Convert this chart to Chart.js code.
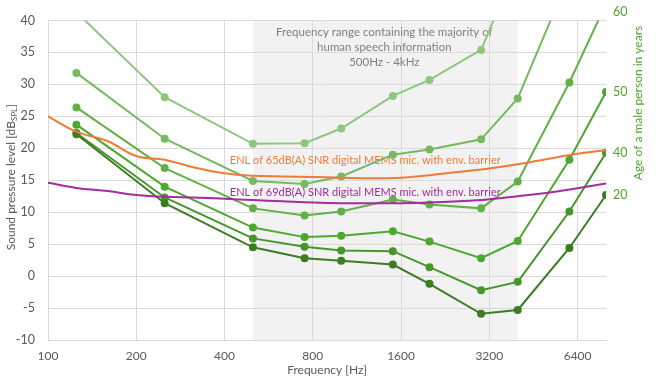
<!DOCTYPE html>
<html>
<head>
<meta charset="utf-8">
<script src="https://cdn.jsdelivr.net/npm/chart.js@4.4.1/dist/chart.umd.min.js"></script>
<style>
	html, body { margin: 0; padding: 0; background: #fff; }
	#wrap { width: 659px; height: 389px; }
</style>
</head>
<body>
<div id="wrap"><canvas id="myChart"></canvas></div>
<script>
// 청력 곡선 주파수 (Hz)
var freqs = [125, 250, 500, 750, 1000, 1500, 2000, 3000, 4000, 6000, 8000];

// 나이별 청력 역치 곡선 (아래 = 어두운 초록 ... 위 = 밝은 초록)
var curve1 = [22.2, 11.4, 4.5, 2.8, 2.4, 1.8, -1.2, -5.9, -5.3, 4.4, 12.7];
var curve2 = [22.4, 12.3, 5.9, 4.6, 4.0, 3.9, 1.4, -2.2, -0.9, 10.1, 19.3];
var curve3 = [23.7, 14.0, 7.6, 6.1, 6.3, 7.0, 5.4, 2.8, 5.5, 18.2, 28.8];
var curve4 = [26.4, 16.9, 10.6, 9.5, 10.1, 12.0, 11.2, 10.6, 14.8, 30.3, 42.6];
var curve5 = [31.8, 21.5, 14.9, 14.4, 15.6, 19.0, 19.8, 21.4, 27.8, 47.0, 60.0];
var curve6 = [41.3, 28.0, 20.7, 20.8, 23.1, 28.2, 30.7, 35.4, 49.0, 60.0, 70.0];
var curveColors = ['#3b7d23', '#46962c', '#4ea72e', '#62b046', '#76ba60', '#8fc67e'];

// 마이크 ENL 곡선 (1/3 옥타브)
var enlFreqs = [100, 125, 160, 200, 250, 315, 400, 500, 630, 800, 1000, 1250, 1600, 2000, 2500, 3150, 4000, 5000, 6300, 8000];
var enl65 = [25.0, 22.6, 21.1, 18.8, 18.2, 17.0, 16.1, 15.7, 15.6, 15.5, 15.4, 15.3, 15.4, 15.8, 16.3, 16.8, 17.5, 18.3, 19.1, 19.7];
var enl69 = [14.6, 13.8, 13.3, 12.7, 12.4, 12.3, 12.1, 11.9, 11.7, 11.5, 11.4, 11.4, 11.4, 11.5, 11.7, 12.0, 12.5, 13.0, 13.7, 14.5];

// 축 눈금
var xTicks = [100, 200, 400, 800, 1600, 3200, 6400];
var yTicks = [-10, -5, 0, 5, 10, 15, 20, 25, 30, 35, 40];
var ageLabels = ['20', '40', '50', '60'];
var agePos = [12.7, 19.3, 28.8, 41.3];

var speechBand = [500, 4000];
var speechText = ['Frequency range containing the majority of', 'human speech information', '500Hz - 4kHz'];
var enl65Label = 'ENL of 65dB(A) SNR digital MEMS mic. with env. barrier';
var enl69Label = 'ENL of 69dB(A) SNR digital MEMS mic. with env. barrier';

var FONT = 'Lato, "Open Sans", sans-serif';

function toPoints(xs, ys) {
	return xs.map(function(x, i) { return { x: x, y: ys[i] }; });
}

var curves = [curve1, curve2, curve3, curve4, curve5, curve6];
var datasets = [];

datasets.push({
	label: 'ENL 65dB',
	data: toPoints(enlFreqs, enl65),
	borderColor: '#ef7b38',
	borderWidth: 2,
	pointRadius: 0,
	tension: 0.4
});
datasets.push({
	label: 'ENL 69dB',
	data: toPoints(enlFreqs, enl69),
	borderColor: '#a22ca0',
	borderWidth: 2,
	pointRadius: 0,
	tension: 0.4
});
curves.forEach(function(c, i) {
	datasets.push({
		label: 'age ' + (i + 1),
		data: toPoints(freqs, c),
		borderColor: curveColors[i],
		backgroundColor: curveColors[i],
		borderWidth: 2,
		pointRadius: 3,
		pointHoverRadius: 3,
		tension: 0
	});
});

// 배경 영역, 주석, 축 제목 그리기
var decorPlugin = {
	id: 'decor',
	beforeDraw: function(chart) {
		var ctx = chart.ctx, a = chart.chartArea, xs = chart.scales.x;
		var x1 = xs.getPixelForValue(speechBand[0]);
		var x2 = xs.getPixelForValue(speechBand[1]);
		ctx.save();
		ctx.fillStyle = '#f2f2f2';
		ctx.fillRect(x1, a.top, x2 - x1, a.bottom - a.top);
		ctx.restore();
	},
	beforeDatasetsDraw: function(chart) {
		var ctx = chart.ctx, xs = chart.scales.x, ys = chart.scales.y;
		ctx.save();
		ctx.font = '11.5px ' + FONT;
		ctx.textBaseline = 'middle';
		ctx.textAlign = 'center';
		ctx.fillStyle = '#7f7f7f';
		var cx = xs.getPixelForValue(Math.sqrt(speechBand[0] * speechBand[1])) - 1;
		speechText.forEach(function(t, i) {
			ctx.fillText(t, cx, 32 + i * 15);
		});
		ctx.textAlign = 'left';
		ctx.font = '11px ' + FONT;
		ctx.fillStyle = '#ef7b38';
		ctx.fillText(enl65Label, xs.getPixelForValue(417), ys.getPixelForValue(18.1));
		ctx.fillStyle = '#a22ca0';
		ctx.fillText(enl69Label, xs.getPixelForValue(417), ys.getPixelForValue(13.1));
		ctx.restore();
	},
	afterDraw: function(chart) {
		var ctx = chart.ctx, a = chart.chartArea;
		ctx.save();
		// 왼쪽 축 제목 (아래첨자 포함)
		ctx.translate(11, (a.top + a.bottom) / 2 - 3);
		ctx.rotate(-Math.PI / 2);
		ctx.fillStyle = '#595959';
		ctx.textBaseline = 'middle';
		var main = 'Sound pressure level [dB';
		ctx.font = '12px ' + FONT;
		var w1 = ctx.measureText(main).width;
		ctx.font = '8px ' + FONT;
		var w2 = ctx.measureText('SPL').width;
		ctx.font = '12px ' + FONT;
		var w3 = ctx.measureText(']').width;
		var start = -(w1 + w2 + w3) / 2;
		ctx.textAlign = 'left';
		ctx.fillText(main, start, 0);
		ctx.font = '8px ' + FONT;
		ctx.fillText('SPL', start + w1, 3);
		ctx.font = '12px ' + FONT;
		ctx.fillText(']', start + w1 + w2, 0);
		ctx.restore();

		// 오른쪽 축 제목
		ctx.save();
		ctx.translate(638, 103);
		ctx.rotate(-Math.PI / 2);
		ctx.fillStyle = '#4ea72e';
		ctx.font = '12px ' + FONT;
		ctx.textAlign = 'center';
		ctx.textBaseline = 'middle';
		ctx.fillText('Age of a male person in years', 0, 0);
		ctx.restore();

		// x축 제목
		ctx.save();
		ctx.fillStyle = '#595959';
		ctx.font = '12px ' + FONT;
		ctx.textAlign = 'center';
		ctx.textBaseline = 'middle';
		ctx.fillText('Frequency [Hz]', (a.left + a.right) / 2, 370);
		ctx.restore();
	}
};

var ctx = document.getElementById('myChart').getContext('2d');
window.myChart = new Chart(ctx, {
	type: 'line',
	data: { datasets: datasets },
	plugins: [decorPlugin],
	options: {
		responsive: true,
		maintainAspectRatio: false,
		animation: false,
		layout: { padding: { top: 19, left: 0, right: 0, bottom: 0 } },
		plugins: {
			legend: { display: false },
			tooltip: { enabled: false }
		},
		scales: {
			x: {
				type: 'logarithmic',
				min: 100,
				max: 8000,
				afterBuildTicks: function(s) {
					s.ticks = xTicks.map(function(v) { return { value: v }; });
				},
				afterFit: function(s) { s.height = 49; },
				ticks: {
					autoSkip: false,
					maxRotation: 0,
					padding: 9,
					color: '#595959',
					font: { family: FONT, size: 12 },
					callback: function(v) { return String(v); }
				},
				grid: { color: '#d9d9d9', drawTicks: false },
				border: { color: '#d9d9d9' }
			},
			y: {
				position: 'left',
				min: -10,
				max: 40,
				afterBuildTicks: function(s) {
					s.ticks = yTicks.map(function(v) { return { value: v }; });
				},
				afterFit: function(s) { s.width = 48; },
				ticks: {
					padding: 13,
					color: '#595959',
					font: { family: FONT, size: 12.5 }
				},
				grid: { color: '#d9d9d9', drawTicks: false },
				border: { color: '#d9d9d9' }
			},
			y2: {
				position: 'right',
				min: -10,
				max: 40,
				afterBuildTicks: function(s) {
					s.ticks = agePos.map(function(v) { return { value: v }; });
				},
				afterFit: function(s) { s.width = 53; },
				ticks: {
					autoSkip: false,
					padding: 7,
					color: '#4ea72e',
					font: { family: FONT, size: 12.5 },
					callback: function(v, i) { return ageLabels[i]; }
				},
				grid: { display: false, drawTicks: false },
				border: { display: false }
			}
		}
	}
});
</script>
</body>
</html>
